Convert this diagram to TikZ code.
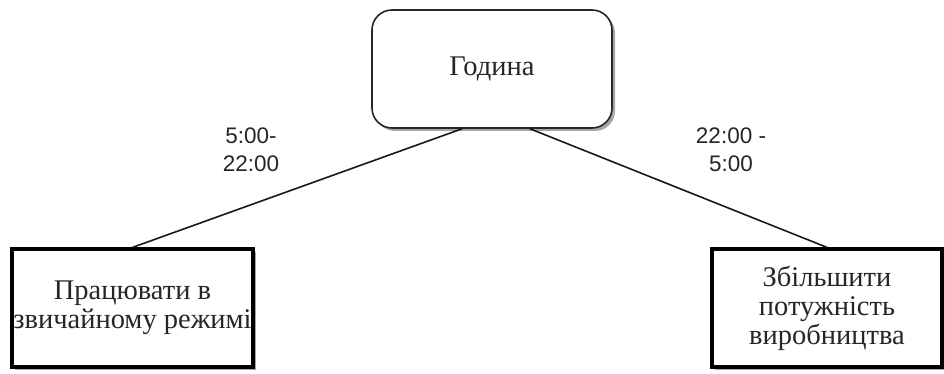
\documentclass[tikz,border=0pt]{standalone}
\usepackage{fontspec}
\setmainfont{Liberation Serif}
\newfontfamily\labelfont{Liberation Sans}
\usetikzlibrary{shadows,calc}
\begin{document}
\begin{tikzpicture}[x=1pt,y=-1pt,
  shade/.style={drop shadow={shadow xshift=3pt,shadow yshift=-3pt,fill=black,opacity=0.35}},
  question/.style={draw=black!85,line width=1.6pt,rounded corners=20pt,fill=white,shade,
    minimum width=240pt,minimum height=118pt,inner sep=0pt,
    font=\fontsize{28.5}{29}\selectfont,text=black!85,align=center},
  action/.style={draw=black,line width=3.2pt,fill=white,shade,
    minimum height=118pt,inner sep=0pt,
    font=\fontsize{28.5}{29}\selectfont,text=black!85,align=center},
  branch/.style={line width=1.6pt,draw=black!90},
  cond/.style={font=\labelfont\fontsize{22.5}{28}\selectfont,text=black!85,align=center}]
  % canvas
  \path[use as bounding box,fill=white] (0,0) rectangle (944,374);
  % decision node
  \node[question] (hour) at (492,69) {Година};
  % outcomes
  \node[action,minimum width=241pt] (normal) at (132.5,308) {Працювати в\\звичайному режимі};
  \node[action,minimum width=230pt] (boost) at (827,308) {Збільшити\\потужність\\виробництва};
  % branches
  \draw[branch] ($(hour.south)+(-30,0)$) -- (normal.north);
  \draw[branch] ($(hour.south)+(38,0)$) -- (boost.north);
  % branch conditions
  \node[cond] (dayrange) at (251,150) {5:00-\\22:00};
  \node[cond] (nightrange) at (731,150) {22:00 -\\5:00};
\end{tikzpicture}
\end{document}
